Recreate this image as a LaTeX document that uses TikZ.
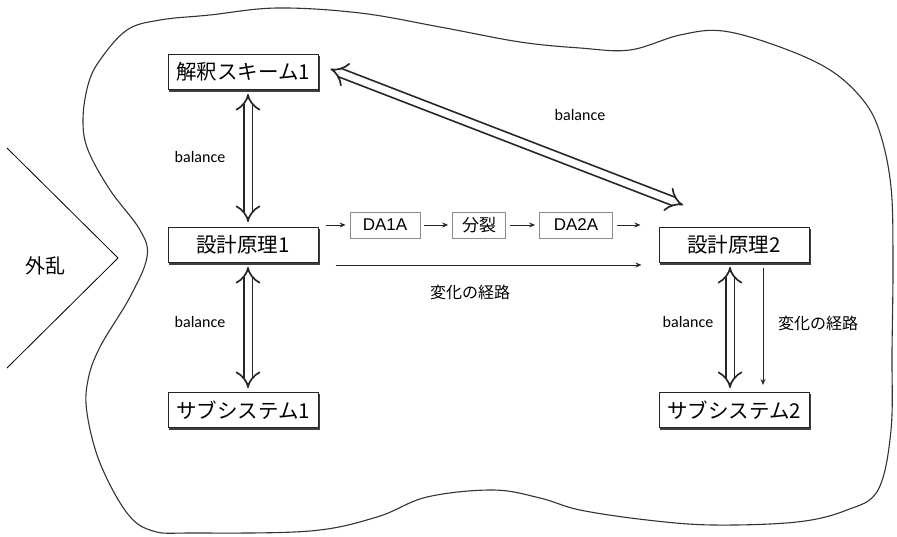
\documentclass[tikz,border=0pt]{standalone}
\usepackage{fontspec}
\setmainfont{Carlito}
\newfontfamily\jp{Noto Sans CJK JP}
\newfontfamily\arialf{Liberation Sans}
\usetikzlibrary{arrows.meta,shadows,calc}
\begin{document}
\begin{tikzpicture}[x=1pt,y=-1pt,
  mainbox/.style={draw=black!85, line width=1pt, fill=white, minimum width=150pt, minimum height=35pt,
    inner sep=0pt, font=\jp\fontsize{20.5}{22}\selectfont,
    copy shadow={shadow xshift=1.8pt, shadow yshift=-1.8pt, fill=black!75, draw=black!75}},
  dabox/.style={draw=black!45, line width=0.7pt, fill=white, minimum height=26pt, inner sep=0pt},
  lbl/.style={font=\fontsize{16}{18}\selectfont},
  jlbl/.style={font=\jp\fontsize{16}{18}\selectfont},
  dbl/.style={double=white, draw=black!85, double distance=7pt, line width=1.7pt, {Implies}-{Implies}},
  thin/.style={draw=black!85, line width=0.9pt, -{Stealth[length=6pt,width=5pt]}}]
\useasboundingbox (0,0) rectangle (897,537);
% blob
\draw[line width=1.1pt, black!80] plot[smooth cycle, tension=0.6] coordinates {
 (127,30) (160,20) (210,15) (277,8) (360,13) (440,27) (520,42) (580,48) (630,50) (680,35) (723,31)
 (780,47) (830,70) (863,100) (880,133) (891,187) (893,260) (892,350) (891,430) (878,490) (847,510)
 (797,522) (713,525) (647,520) (580,510) (540,498) (493,490) (427,497) (377,517) (310,531) (193,533)
 (153,531) (127,513) (100,463) (87,413) (88,380) (100,347) (130,297) (147,257) (140,230) (110,190)
 (88,150) (83,120) (88,85) (100,60)};
% disturbance chevron
\coordinate (c1) at (7,148);
\coordinate (c2) at (118,258);
\coordinate (c3) at (7,368);
\draw[line width=0.8pt] (c1) -- (c2) -- (c3);
\node[font=\jp\fontsize{20}{22}\selectfont] (gairan) at (45,266) {外乱};
% main boxes
\node[mainbox] (ks1) at (243,72) {解釈スキーム1};
\node[mainbox] (dp1) at (243,245) {設計原理1};
\node[mainbox] (ss1) at (243,410) {サブシステム1};
\node[mainbox] (dp2) at (734,245) {設計原理2};
\node[mainbox] (ss2) at (734,410) {サブシステム2};
% DA chain
\node[dabox, minimum width=70pt, font=\arialf\fontsize{17}{19}\selectfont] (da1) at (385,225) {DA1A};
\node[dabox, minimum width=53pt, font=\jp\fontsize{17}{19}\selectfont] (bun) at (479,225) {分裂};
\node[dabox, minimum width=73pt, font=\arialf\fontsize{17}{19}\selectfont] (da2) at (576,225) {DA2A};
\coordinate (s0) at ([xshift=7pt,yshift=20pt]dp1.east);
\coordinate (e0) at ([xshift=-18pt,yshift=20pt]dp2.west);
\draw[thin] (s0) -- ([xshift=-4pt]da1.west);
\draw[thin] ([xshift=4pt]da1.east) -- ([xshift=-4pt]bun.west);
\draw[thin] ([xshift=4pt]bun.east) -- ([xshift=-4pt]da2.west);
\draw[thin] ([xshift=4pt]da2.east) -- (e0);
\draw[thin] ([xshift=17pt,yshift=-20pt]dp1.east) -- ([xshift=-17pt,yshift=-20pt]dp2.west);
\node[jlbl] (path1) at (470,292) {変化の経路};
% balance arrows
\draw[dbl] ([xshift=5pt,yshift=-4pt]ks1.south) -- ([xshift=5pt,yshift=5pt]dp1.north);
\node[lbl] (b1) at (200,157) {balance};
\draw[dbl] ([xshift=5pt,yshift=-4pt]dp1.south) -- ([xshift=5pt,yshift=4pt]ss1.north);
\node[lbl] (b2) at (200,322) {balance};
\draw[dbl] ([xshift=12pt,yshift=3pt]ks1.east) -- ([xshift=-51pt,yshift=22pt]dp2.north);
\node[lbl] (b3) at (580,115) {balance};
\draw[dbl] ([xshift=-4pt,yshift=-4pt]dp2.south) -- ([xshift=-4pt,yshift=4pt]ss2.north);
\node[lbl] (b4) at (688,322) {balance};
\draw[thin] ([xshift=29pt,yshift=-5pt]dp2.south) -- ([xshift=29pt,yshift=7pt]ss2.north);
\node[jlbl] (path2) at (818,323) {変化の経路};
\end{tikzpicture}
\end{document}
